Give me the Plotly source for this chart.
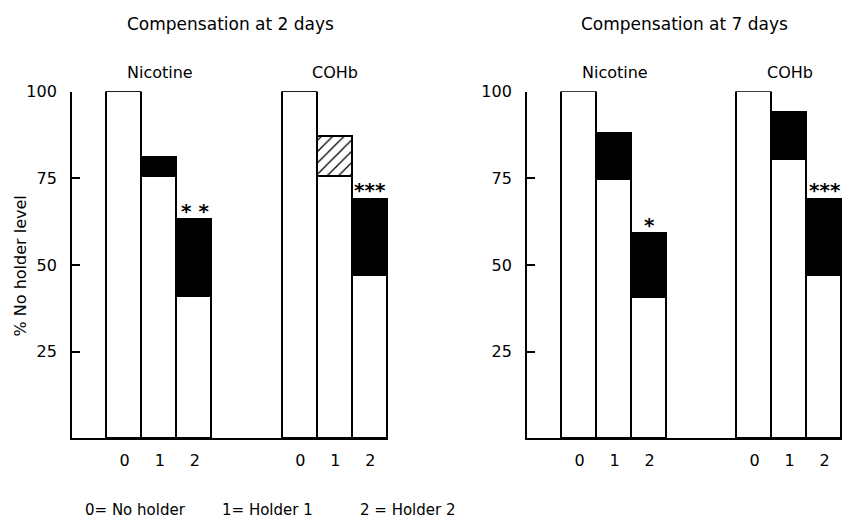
import plotly.graph_objects as go

# ---- data ----
holders = ["0", "1", "2"]
groups = ["Nicotine", "COHb"]
# level with holder (before compensation) and level after compensation, % of no-holder level
day2_base = [100, 75.5, 41, 100, 75.5, 47]
day2_comp = [100, 81, 63, 100, 87, 69]
day2_sig = ["", "", "* *", "", "", "***"]
day2_hatched = [False, False, False, False, True, False]

day7_base = [100, 74.5, 40.5, 100, 80.5, 47]
day7_comp = [100, 88, 59, 100, 94, 69]
day7_sig = ["", "", "*", "", "", "***"]
day7_hatched = [False, False, False, False, False, False]

panel_titles = ["Compensation at 2 days", "Compensation at 7 days"]
y_ticks = [25, 50, 75, 100]
y_title = "% No holder level"
legend_text = ["0= No holder", "1= Holder 1", "2 = Holder 2"]

# ---- layout helpers ----
W, H = 843, 521
xpos = [1.5, 2.5, 3.5, 6.5, 7.5, 8.5]
FONT = "DejaVu Sans, Liberation Sans, sans-serif"
LW = 1.8

fig = go.Figure()

panels = [
    (day2_base, day2_comp, day2_sig, day2_hatched, "x", "y"),
    (day7_base, day7_comp, day7_sig, day7_hatched, "x2", "y2"),
]

for base, comp, sig, hatched, xa, ya in panels:
    top = [c - b for b, c in zip(base, comp)]
    solid_top = [0 if h else t for t, h in zip(top, hatched)]
    hatch_top = [t if h else 0 for t, h in zip(top, hatched)]
    fig.add_trace(go.Bar(
        x=xpos, y=base, width=1.0, xaxis=xa, yaxis=ya,
        marker=dict(color="white", line=dict(color="black", width=LW)),
        cliponaxis=False, showlegend=False, hoverinfo="skip"))
    fig.add_trace(go.Bar(
        x=xpos, y=solid_top, width=1.0, xaxis=xa, yaxis=ya,
        marker=dict(color="black", line=dict(color="black", width=LW)),
        cliponaxis=False, showlegend=False, hoverinfo="skip"))
    if any(hatched):
        fig.add_trace(go.Bar(
            x=xpos, y=hatch_top, width=1.0, xaxis=xa, yaxis=ya,
            marker=dict(color="white", line=dict(color="black", width=LW),
                        pattern=dict(shape="/", fgcolor="black",
                                     bgcolor="white", size=8, solidity=0.16,
                                     fillmode="replace")),
            cliponaxis=False, showlegend=False, hoverinfo="skip"))
    for xv, cv, s in zip(xpos, comp, sig):
        if s:
            fig.add_annotation(x=xv, y=cv, xref=xa, yref=ya,
                               text="<b>" + s + "</b>",
                               showarrow=False, xanchor="center",
                               yanchor="bottom", yshift=-5,
                               font=dict(family=FONT, size=20, color="black"))

# domains
yd = [(H - 437) / H, (H - 84) / H]
xd1 = [72 / W, 388 / W]
xd2 = [527 / W, 842 / W]

axis_common = dict(showgrid=False, zeroline=False, showline=True,
                   linecolor="black", linewidth=LW)
xcommon = dict(axis_common, range=[0, 9], tickvals=xpos,
               ticktext=holders * 2, ticks="", ticklabelstandoff=6,
               tickfont=dict(family=FONT, size=16, color="black"))
ycommon = dict(axis_common, range=[0, 100], tickvals=y_ticks,
               ticks="inside", ticklen=8, tickwidth=LW, tickcolor="black",
               ticklabelstandoff=10,
               tickfont=dict(family=FONT, size=16, color="black"))

fig.update_layout(
    width=W, height=H, margin=dict(l=0, r=0, t=0, b=0),
    paper_bgcolor="white", plot_bgcolor="white",
    barmode="stack", bargap=0,
    xaxis=dict(xcommon, domain=xd1, anchor="y"),
    yaxis=dict(ycommon, domain=yd, anchor="x"),
    xaxis2=dict(xcommon, domain=xd2, anchor="y2"),
    yaxis2=dict(ycommon, domain=yd, anchor="x2"),
)

# panel titles (centred over each panel)
for title, xa in zip(panel_titles, ["x", "x2"]):
    fig.add_annotation(x=4.5, y=1 - 15 / H, xref=xa, yref="paper",
                       text=title, showarrow=False,
                       xanchor="center", yanchor="middle",
                       font=dict(family=FONT, size=17, color="black"))
# group labels centred over the middle bar of each group
for xa in ["x", "x2"]:
    for g, xc in zip(groups, [xpos[1], xpos[4]]):
        fig.add_annotation(x=xc, y=1 - 65 / H, xref=xa, yref="paper",
                           text=g, showarrow=False,
                           xanchor="center", yanchor="middle",
                           font=dict(family=FONT, size=16, color="black"))

# y-axis title
fig.add_annotation(x=20 / W, y=1 - 262 / H, xref="paper", yref="paper",
                   text=y_title, textangle=-90, showarrow=False,
                   xanchor="center", yanchor="middle",
                   font=dict(family=FONT, size=16, color="black"))

# bottom key
for t, xl in zip(legend_text, [83, 220, 358]):
    fig.add_annotation(x=xl / W, y=1 - 510 / H, xref="paper", yref="paper",
                       text=t, showarrow=False, xanchor="left",
                       yanchor="middle",
                       font=dict(family=FONT, size=15, color="black"))

fig.write_html("out.html")
